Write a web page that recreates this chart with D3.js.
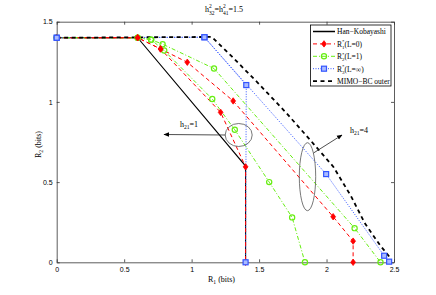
<!DOCTYPE html>
<html>
<head>
<meta charset="utf-8">
<script src="https://cdn.jsdelivr.net/npm/d3@7"></script>
<style>
  body { margin: 0; background: #fff; }
  text { font-family: "Liberation Serif", "DejaVu Serif", serif; }
</style>
</head>
<body>
<script>
const WIDTH = 436;
const HEIGHT = 295;

// tick values
const xTicks = [0, 0.5, 1, 1.5, 2, 2.5];
const yTicks = [0, 0.5, 1, 1.5];

// series (x = R1, y = R2)
const hanKobayashi = [[0, 1.4], [0.6, 1.4], [1.4, 0.6], [1.4, 0]];
// h21 = 1
const r1L0a = [[0, 1.4], [0.6, 1.4], [0.77, 1.33], [1.215, 0.935], [1.4, 0.595], [1.4, 0]];
const r2L1a = [[0, 1.4], [0.6, 1.4], [0.7, 1.388], [0.797, 1.32], [1.153, 1.018], [1.32, 0.826], [1.575, 0.5], [1.745, 0.28], [1.84, 0]];
const r3Linfa = [[0, 1.4], [1.095, 1.403], [1.405, 1.105], [1.4, 0]];
// h21 = 4
const r1L0b = [[0, 1.4], [0.6, 1.4], [0.77, 1.33], [0.968, 1.247], [1.308, 1.006], [2.049, 0.284], [2.197, 0.132], [2.197, 0]];
const r2L1b = [[0, 1.4], [0.6, 1.4], [0.7, 1.388], [0.785, 1.36], [1.166, 1.208], [2.208, 0.213], [2.4, 0]];
const r3Linfb = [[0, 1.4], [1.095, 1.403], [1.997, 0.55], [2.427, 0.041], [2.464, 0.004]];
const mimoOuter = [[0, 1.4], [1.15, 1.405], [1.3, 1.282], [1.494, 1.116], [1.704, 0.929], [1.9, 0.742], [2.05, 0.596], [2.18, 0.415], [2.284, 0.243], [2.395, 0.108], [2.47, 0.03]];

const legendLabels = ["Han\u2212Kobayashi", "R1*(L=0)", "R2*(L=1)", "R3*(L=\u221e)", "MIMO\u2212BC outer"];

const svg = d3.select("body").append("svg")
    .attr("width", WIDTH)
    .attr("height", HEIGHT);

const x = d3.scaleLinear().domain([0, 2.5]).range([56.7, 394]);
const y = d3.scaleLinear().domain([0, 1.5]).range([262.3, 21.7]);

const AXIS = "#333";

// axes box with inward ticks, MATLAB style
const fmt = d => String(d);
const gx = svg.append("g").attr("transform", `translate(0,${y(0)})`)
    .call(d3.axisBottom(x).tickValues(xTicks).tickFormat(fmt).tickSizeInner(-3).tickSizeOuter(0).tickPadding(5));
const gxt = svg.append("g").attr("transform", `translate(0,${y(1.5)})`)
    .call(d3.axisTop(x).tickValues(xTicks).tickFormat("").tickSizeInner(-3).tickSizeOuter(0));
const gy = svg.append("g").attr("transform", `translate(${x(0)},0)`)
    .call(d3.axisLeft(y).tickValues(yTicks).tickFormat(fmt).tickSizeInner(-3).tickSizeOuter(0).tickPadding(4));
const gyr = svg.append("g").attr("transform", `translate(${x(2.5)},0)`)
    .call(d3.axisRight(y).tickValues(yTicks).tickFormat("").tickSizeInner(-3).tickSizeOuter(0));
[gx, gxt, gy, gyr].forEach(g => {
    g.selectAll("path, line").attr("stroke", AXIS).attr("stroke-width", 0.8);
    g.selectAll("text").attr("fill", "#000")
        .style("font-family", "'Liberation Sans', Arial, sans-serif").style("font-size", "7px");
});

const line = d3.line().x(d => x(d[0])).y(d => y(d[1]));

const RED = "#ff0000", GREEN = "#66ee11", BLUE = "#3355ff";

function drawSeries(data, color, width, dash) {
    svg.append("path").datum(data)
        .attr("d", line)
        .attr("fill", "none")
        .attr("stroke", color)
        .attr("stroke-width", width)
        .attr("stroke-dasharray", dash);
}

function marker(g, kind, cx, cy) {
    if (kind === "diamond") {
        g.append("path")
            .attr("d", `M${cx},${cy - 3.2}L${cx + 2.4},${cy}L${cx},${cy + 3.2}L${cx - 2.4},${cy}Z`)
            .attr("fill", RED).attr("stroke", RED).attr("stroke-width", 0.8);
    } else if (kind === "circle") {
        g.append("circle").attr("cx", cx).attr("cy", cy).attr("r", 2.6)
            .attr("fill", "none").attr("stroke", GREEN).attr("stroke-width", 1.2);
    } else if (kind === "square") {
        g.append("rect").attr("x", cx - 2.5).attr("y", cy - 2.5).attr("width", 5).attr("height", 5)
            .attr("fill", "#aabbff").attr("stroke", BLUE).attr("stroke-width", 1.2);
    }
}

function drawMarkers(data, kind) {
    const g = svg.append("g");
    data.forEach(d => marker(g, kind, x(d[0]), y(d[1])));
}

// lines
drawSeries(hanKobayashi, "#000", 1.1, null);
drawSeries(r3Linfa, BLUE, 1, "1,1.5");
drawSeries(r3Linfb, BLUE, 1, "1,1.5");
drawSeries(r2L1a, GREEN, 1, "4,2,1,2");
drawSeries(r2L1b, GREEN, 1, "4,2,1,2");
drawSeries(r1L0a, RED, 1, "4,3");
drawSeries(r1L0b, RED, 1, "4,3");
drawSeries(mimoOuter, "#000", 1.8, "4,3.5");

drawMarkers(r2L1a, "circle");
drawMarkers(r2L1b, "circle");
drawMarkers(r1L0a, "diamond");
drawMarkers(r1L0b, "diamond");
drawMarkers(r3Linfa, "square");
drawMarkers(r3Linfb, "square");

// annotations
svg.append("defs").append("marker")
    .attr("id", "arr").attr("viewBox", "0 0 10 10").attr("refX", 9).attr("refY", 5)
    .attr("markerWidth", 7).attr("markerHeight", 7).attr("orient", "auto")
    .append("path").attr("d", "M0,1L10,5L0,9Z").attr("fill", "#000");

svg.append("ellipse").attr("cx", 238.7).attr("cy", 135).attr("rx", 13.5).attr("ry", 11.5)
    .attr("fill", "none").attr("stroke", "#555").attr("stroke-width", 0.8);
svg.append("line").attr("x1", 225.2).attr("y1", 135).attr("x2", 164).attr("y2", 134.5)
    .attr("stroke", "#222").attr("stroke-width", 0.8).attr("marker-end", "url(#arr)");

svg.append("ellipse").attr("cx", 307.5).attr("cy", 176.7).attr("rx", 8.2).attr("ry", 34)
    .attr("fill", "none").attr("stroke", "#555").attr("stroke-width", 0.8);
svg.append("line").attr("x1", 313.5).attr("y1", 153).attr("x2", 342).attr("y2", 135)
    .attr("stroke", "#222").attr("stroke-width", 0.8).attr("marker-end", "url(#arr)");

function subLabel(xp, yp, base, sub, rest, size) {
    const t = svg.append("text").attr("x", xp).attr("y", yp).style("font-size", size + "px");
    t.append("tspan").text(base);
    t.append("tspan").attr("dy", 2).style("font-size", (size * 0.7) + "px").text(sub);
    t.append("tspan").attr("dy", -2).text(rest);
    return t;
}
subLabel(180, 127, "h", "21", "=1", 8);
subLabel(350, 133, "h", "21", "=4", 8);

// title: h^2_32 = h^2_41 = 1.5 (superscript stacked over subscript)
(function () {
    const t = svg.append("text").attr("x", 205).attr("y", 12).style("font-size", "8px");
    const s = "5.5px";
    t.append("tspan").text("h");
    t.append("tspan").attr("dy", -4.5).style("font-size", s).text("2");
    t.append("tspan").attr("dx", -2.75).attr("dy", 7).style("font-size", s).text("32");
    t.append("tspan").attr("dy", -2.5).text("=h");
    t.append("tspan").attr("dy", -4.5).style("font-size", s).text("2");
    t.append("tspan").attr("dx", -2.75).attr("dy", 7).style("font-size", s).text("41");
    t.append("tspan").attr("dy", -2.5).text("=1.5");
})();

// axis labels
subLabel(208, 282, "R", "1", " (bits)", 8);
subLabel(0, 0, "R", "2", " (bits)", 8)
    .attr("transform", "translate(41,158) rotate(-90)");

// legend
const lg = svg.append("g");
lg.append("rect").attr("x", 310.5).attr("y", 25).attr("width", 80.5).attr("height", 61)
    .attr("fill", "#fff").attr("stroke", "#000").attr("stroke-width", 0.8);
const legendStyle = [
    { color: "#000", width: 1.5, dash: null, m: null },
    { color: RED, width: 1, dash: "4,3", m: "diamond" },
    { color: GREEN, width: 1, dash: "4,2,1,2", m: "circle" },
    { color: BLUE, width: 1, dash: "1,1.5", m: "square" },
    { color: "#000", width: 1.8, dash: "4,3.5", m: null }
];
legendLabels.forEach((lab, i) => {
    const cy = 31.5 + i * 12.4;
    lg.append("line").attr("x1", 313).attr("x2", 335).attr("y1", cy).attr("y2", cy)
        .attr("stroke", legendStyle[i].color).attr("stroke-width", legendStyle[i].width)
        .attr("stroke-dasharray", legendStyle[i].dash);
    if (legendStyle[i].m) marker(lg, legendStyle[i].m, 324, cy);
    const t = lg.append("text").attr("x", 337).attr("y", cy + 2.8).style("font-size", "7.5px");
    if (lab[0] === "R") {
        t.append("tspan").text("R");
        t.append("tspan").attr("dy", -3.3).style("font-size", "5px").text("*");
        t.append("tspan").attr("dx", -2.5).attr("dy", 5.3).style("font-size", "5px").text(lab[1]);
        t.append("tspan").attr("dy", -2).text(lab.slice(3));
    } else {
        t.text(lab);
    }
});
</script>
</body>
</html>
